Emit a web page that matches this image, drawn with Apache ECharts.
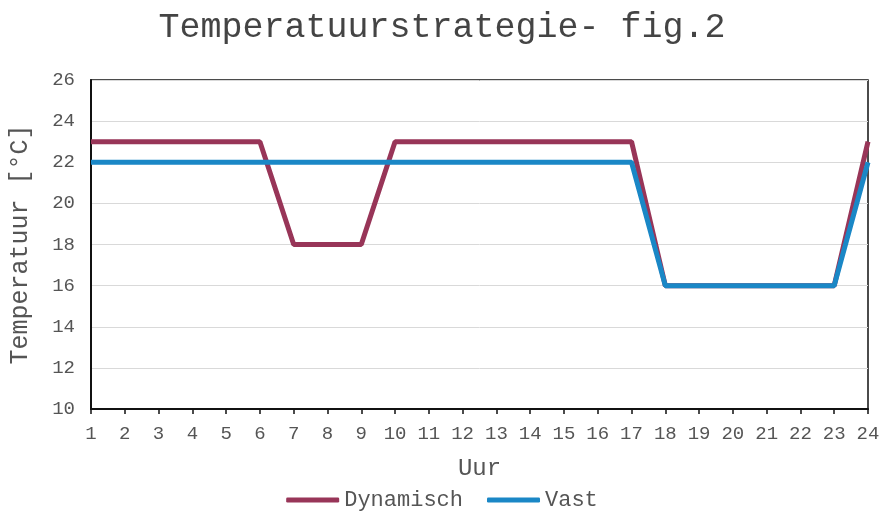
<!DOCTYPE html>
<html><head><meta charset="utf-8">
<script src="https://cdn.jsdelivr.net/npm/echarts@6/dist/echarts.min.js"></script>
<style>html,body{margin:0;padding:0;background:#fff}#c{width:884px;height:511px}</style>
</head><body><div id="c"></div>
<script>
const hours = ['1','2','3','4','5','6','7','8','9','10','11','12','13','14','15','16','17','18','19','20','21','22','23','24'];
const dynamisch = [23,23,23,23,23,23,18,18,18,23,23,23,23,23,23,23,23,16,16,16,16,16,16,23];
const vast = [22,22,22,22,22,22,22,22,22,22,22,22,22,22,22,22,22,16,16,16,16,16,16,22];
const FONT = '"Liberation Mono", "DejaVu Sans Mono", monospace';
const chart = echarts.init(document.getElementById('c'));
chart.setOption({
  animation: false,
  title: {text: 'Temperatuurstrategie- fig.2', left: 'center', top: 5,
    textStyle: {fontFamily: FONT, fontSize: 35, fontWeight: 'normal', color: '#444'}},
  grid: {left: 91, right: 16, top: 80, bottom: 102, show: true, borderColor: '#111', borderWidth: 1.5,
    outerBoundsMode: 'none', containLabel: false},
  legend: {bottom: -5, left: 'center', itemWidth: 53, itemHeight: 5, itemGap: 24,
    icon: 'roundRect',
    textStyle: {fontFamily: FONT, fontSize: 22, color: '#555'},
    data: ['Dynamisch','Vast']},
  xAxis: {type: 'category', data: hours, boundaryGap: false,
    name: 'Uur', nameLocation: 'middle', nameGap: 48,
    nameTextStyle: {fontFamily: FONT, fontSize: 24, color: '#555'},
    axisLine: {lineStyle: {color: '#111', width: 2}},
    axisTick: {show: true, inside: false, length: 5, lineStyle: {color: '#111', width: 1.5}},
    axisLabel: {fontFamily: FONT, fontSize: 19, color: '#555', margin: 15, interval: 0},
    splitLine: {show: false}},
  yAxis: {type: 'value', min: 10, max: 26, interval: 2,
    name: 'Temperatuur [°C]', nameLocation: 'middle', nameGap: 58, nameRotate: 90,
    nameTextStyle: {fontFamily: FONT, fontSize: 25, color: '#555'},
    axisLine: {show: true, lineStyle: {color: '#111', width: 2}},
    axisTick: {show: false},
    axisLabel: {fontFamily: FONT, fontSize: 19, color: '#555', margin: 16},
    splitLine: {lineStyle: {color: '#d9d9d9', width: 1}}},
  series: [
    {name: 'Dynamisch', type: 'line', data: dynamisch, showSymbol: false, symbol: 'none',
      lineStyle: {color: '#983558', width: 5}, itemStyle: {color: '#983558'}},
    {name: 'Vast', type: 'line', data: vast, showSymbol: false, symbol: 'none',
      lineStyle: {color: '#1a87c6', width: 5}, itemStyle: {color: '#1a87c6'}}
  ]
});
</script></body></html>
